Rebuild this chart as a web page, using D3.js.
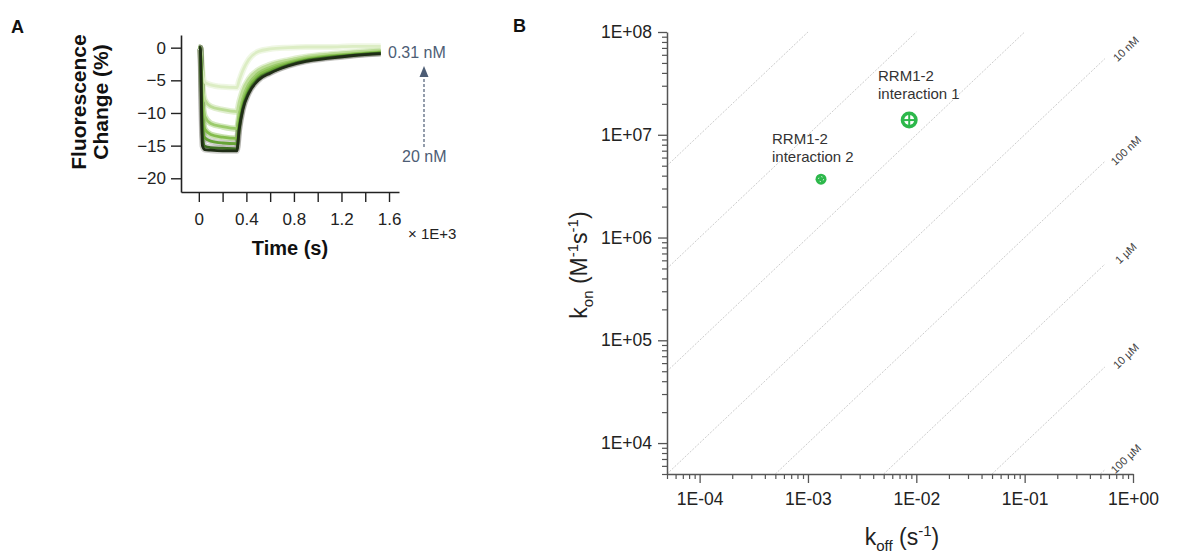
<!DOCTYPE html>
<html><head><meta charset="utf-8">
<script src="https://cdn.jsdelivr.net/npm/d3@7"></script>
<style>
body{margin:0;background:#fff;}
svg{display:block;font-family:"Liberation Sans",Arial,sans-serif;}
</style></head>
<body>
<script>
// ---------- Panel A data ----------
const timeA = [0, 0.012, 0.03, 0.05, 0.1, 0.2, 0.32, 0.34, 0.37, 0.42, 0.5, 0.6, 0.75, 0.9, 1.1, 1.3, 1.53];
const concLabels = ["0.31 nM","0.625 nM","1.25 nM","2.5 nM","5 nM","10 nM","20 nM"];
const c031 = [0, 0, -3.5, -5.3, -5.7, -6.0, -6.1, -5.0, -3.5, -1.8, -0.6, -0.2, 0.0, 0.1, 0.1, 0.2, 0.2];
const c0625 = [0, 0, -5.5, -8.0, -9.0, -9.5, -9.8, -8.3, -6.5, -4.8, -3.4, -2.6, -1.9, -1.4, -1.0, -0.7, -0.4];
const c125 = [0, 0, -7.5, -10.5, -11.6, -12.1, -12.4, -10.3, -7.8, -5.6, -3.9, -3.0, -2.2, -1.6, -1.2, -0.9, -0.6];
const c25 = [0, 0, -9.5, -12.5, -13.3, -13.7, -13.9, -11.3, -8.5, -6.1, -4.3, -3.3, -2.4, -1.8, -1.3, -1.0, -0.7];
const c5 = [0, 0, -11.5, -13.8, -14.3, -14.6, -14.7, -11.8, -8.9, -6.5, -4.6, -3.6, -2.6, -1.9, -1.4, -1.1, -0.8];
const c10 = [0, 0, -13.5, -15.1, -15.3, -15.4, -15.5, -12.3, -9.3, -6.8, -4.8, -3.8, -2.7, -2.0, -1.5, -1.15, -0.85];
const c20 = [0, 0, -15.0, -15.6, -15.7, -15.8, -15.8, -12.5, -9.5, -7.0, -5.0, -3.9, -2.8, -2.1, -1.6, -1.2, -0.9];
const seriesA = [c031, c0625, c125, c25, c5, c10, c20];
const colorsA = ["#dcedc4","#bcdc96","#9ccb6c","#84bc4c","#66a336","#3f6e24","#1f2d16"];
const yTicksA = [0, -5, -10, -15, -20];
const xTicksA = [0, 0.2, 0.4, 0.6, 0.8, 1.0, 1.2, 1.4, 1.6];
const xTickLabelsA = ["0", "", "0.4", "", "0.8", "", "1.2", "", "1.6"];

// ---------- Panel B data ----------
const koffTicks = [1e-4, 1e-3, 1e-2, 1e-1, 1];
const koffTickLabels = ["1E-04","1E-03","1E-02","1E-01","1E+00"];
const konTicks = [1e4, 1e5, 1e6, 1e7, 1e8];
const konTickLabels = ["1E+04","1E+05","1E+06","1E+07","1E+08"];
const kdValues = [1e-11, 1e-10, 1e-9, 1e-8, 1e-7, 1e-6, 1e-5, 1e-4];
const kdLabels = ["", "", "", "10 nM", "100 nM", "1 µM", "10 µM", "100 µM"];
const pointNames = ["interaction 1", "interaction 2"];
const pointKoff = [8.6e-3, 1.32e-3];
const pointKon = [1.39e7, 3.7e6];

const W = 1183, H = 558;
const svg = d3.select("body").append("svg").attr("width", W).attr("height", H);
svg.append("rect").attr("width", W).attr("height", H).attr("fill", "#fff");

// panel letters
svg.append("text").attr("x", 11).attr("y", 33).text("A").style("font-weight","bold").style("font-size","18px").attr("fill","#111");
svg.append("text").attr("x", 513).attr("y", 32).text("B").style("font-weight","bold").style("font-size","18px").attr("fill","#111");

// ================= Panel A =================
const xA = d3.scaleLinear().domain([-0.15, 1.684]).range([181, 399]);
const yA = d3.scaleLinear().domain([-22.1, 1.94]).range([192, 35]);
const gA = svg.append("g");

const lineA = d3.line().x((d,i)=>xA(timeA[i])).y(d=>yA(d)).curve(d3.curveMonotoneX);
seriesA.forEach((s,k)=>{
  gA.append("path").attr("d", lineA(s)).attr("fill","none")
    .attr("stroke", k>=4 ? "#7a7a72" : colorsA[k]).attr("stroke-opacity", k>=4 ? 0.35 : 0.45)
    .attr("stroke-width", 6).attr("stroke-linejoin","round");
});
seriesA.forEach((s,k)=>{
  gA.append("path").attr("d", lineA(s)).attr("fill","none")
    .attr("stroke", colorsA[k]).attr("stroke-width", 2.8).attr("stroke-linejoin","round");
});

const axAy = gA.append("g").attr("transform","translate(181,0)")
  .call(d3.axisLeft(yA).tickValues(yTicksA).tickSize(10).tickSizeOuter(0).tickPadding(5));
const axAx = gA.append("g").attr("transform","translate(0,192)")
  .call(d3.axisBottom(xA).tickValues(xTicksA).tickSize(10).tickSizeOuter(0).tickPadding(11)
    .tickFormat((d,i)=>xTickLabelsA[i]));
[axAy, axAx].forEach(a=>{
  a.select(".domain").attr("stroke","#222").attr("stroke-width",1.6);
  a.selectAll(".tick line").attr("stroke","#222").attr("stroke-width",1.4);
  a.selectAll(".tick text").attr("fill","#222").style("font-size","17px").style("font-family","'Liberation Sans',Arial,sans-serif");
});

gA.append("text").attr("x", 408).attr("y", 239).text("× 1E+3").style("font-size","15px").attr("fill","#222");
gA.append("text").attr("x", 290).attr("y", 255).attr("text-anchor","middle").text("Time (s)")
  .style("font-size","20px").style("font-weight","bold").attr("fill","#111");
gA.append("text").attr("transform","translate(86,102) rotate(-90)").attr("text-anchor","middle")
  .text("Fluorescence").style("font-size","21px").style("font-weight","bold").attr("fill","#111");
gA.append("text").attr("transform","translate(108,102) rotate(-90)").attr("text-anchor","middle")
  .text("Change (%)").style("font-size","21px").style("font-weight","bold").attr("fill","#111");

const slate = "#4d5d75";
gA.append("text").attr("x", 388).attr("y", 58).text(concLabels[0]).style("font-size","16px").attr("fill", slate);
gA.append("text").attr("x", 402).attr("y", 162).text(concLabels[6]).style("font-size","16px").attr("fill", slate);
gA.append("line").attr("x1",424).attr("x2",424).attr("y1",147).attr("y2",76)
  .attr("stroke",slate).attr("stroke-width",1.2).attr("stroke-dasharray","3,2");
gA.append("path").attr("d","M424,66 L428.5,77 L419.5,77 Z").attr("fill",slate);

// ================= Panel B =================
const xB = d3.scaleLog().domain([5e-5, 1]).range([667, 1133]);
const yB = d3.scaleLog().domain([5e3, 1e8]).range([474, 32]);
const gB = svg.append("g");

// KD diagonals
const angle = Math.atan((yB(1e7)-yB(1e8)) / (xB(1)-xB(0.1))) * 180 / Math.PI;
kdValues.forEach((kd,i)=>{
  const k0 = Math.max(5e-5, 5e3*kd);
  let k1 = Math.min(1, 1e8*kd);
  if (kdLabels[i]) k1 = Math.min(k1, 0.55);
  gB.append("line").attr("x1", xB(k0)).attr("y1", yB(k0/kd)).attr("x2", xB(k1)).attr("y2", yB(k1/kd))
    .attr("stroke","#cccccc").attr("stroke-width",1).attr("stroke-dasharray","2,1.5");
  if (kdLabels[i]) {
    const kl = 0.86;
    const lx = xB(kl), ly = Math.max(yB(kl/kd), 40) + 9;
    gB.append("text").attr("transform",`translate(${lx},${ly}) rotate(${-angle})`)
      .attr("text-anchor","middle").attr("dy","0.35em").text(kdLabels[i])
      .style("font-size","11px").attr("fill","#444");
  }
});

// minor ticks
const minorX = [], minorY = [];
for (let e=-5; e<=-1; e++) for (let m=2; m<=9; m++) { const v=m*Math.pow(10,e); if (v>=5e-5 && v<=1) minorX.push(v); }
for (let e=3; e<=7; e++) for (let m=2; m<=9; m++) { const v=m*Math.pow(10,e); if (v>=5e3 && v<=1e8) minorY.push(v); }

const axBxMinor = gB.append("g").attr("transform","translate(0,474)")
  .call(d3.axisBottom(xB).tickValues(minorX).tickSize(5).tickFormat(""));
const axByMinor = gB.append("g").attr("transform","translate(667,0)")
  .call(d3.axisLeft(yB).tickValues(minorY).tickSize(5).tickFormat(""));
const axBx = gB.append("g").attr("transform","translate(0,474)")
  .call(d3.axisBottom(xB).tickValues(koffTicks).tickSize(9).tickSizeOuter(0).tickPadding(10)
    .tickFormat((d,i)=>koffTickLabels[i]));
const axBy = gB.append("g").attr("transform","translate(667,0)")
  .call(d3.axisLeft(yB).tickValues(konTicks).tickSize(9).tickSizeOuter(0).tickPadding(6)
    .tickFormat((d,i)=>konTickLabels[i]));
[axBxMinor, axByMinor].forEach(a=>{ a.select(".domain").remove(); a.selectAll(".tick line").attr("stroke","#555").attr("stroke-width",1.2); });
[axBx, axBy].forEach(a=>{
  a.select(".domain").attr("stroke","#555").attr("stroke-width",1.5);
  a.selectAll(".tick line").attr("stroke","#555").attr("stroke-width",1.3);
  a.selectAll(".tick text").attr("fill","#222").style("font-size","17.5px").style("font-family","'Liberation Sans',Arial,sans-serif");
});

// axis titles
const xl = gB.append("text").attr("x", 902).attr("y", 545).attr("text-anchor","middle").style("font-size","23px").attr("fill","#222");
xl.append("tspan").text("k");
xl.append("tspan").text("off").attr("dy",6).style("font-size","15px");
xl.append("tspan").text(" (s").attr("dy",-6);
xl.append("tspan").text("-1").attr("dy",-9).style("font-size","15px");
xl.append("tspan").text(")").attr("dy",9);

const yl = gB.append("text").attr("transform","translate(587,265) rotate(-90)").attr("text-anchor","middle").style("font-size","23px").attr("fill","#222");
yl.append("tspan").text("k");
yl.append("tspan").text("on").attr("dy",6).style("font-size","15px");
yl.append("tspan").text(" (M").attr("dy",-6);
yl.append("tspan").text("-1").attr("dy",-9).style("font-size","15px");
yl.append("tspan").text("s").attr("dy",9);
yl.append("tspan").text("-1").attr("dy",-9).style("font-size","15px");
yl.append("tspan").text(")").attr("dy",9);

// points
const green = "#2db84b";
// interaction 1
{
  const cx = xB(pointKoff[0]), cy = yB(pointKon[0]);
  gB.append("circle").attr("cx",cx).attr("cy",cy).attr("r",8.5).attr("fill",green);
  gB.append("circle").attr("cx",cx).attr("cy",cy).attr("r",5).attr("fill","#fff");
  gB.append("line").attr("x1",cx-6.5).attr("x2",cx+6.5).attr("y1",cy).attr("y2",cy).attr("stroke",green).attr("stroke-width",2);
  gB.append("line").attr("x1",cx).attr("x2",cx).attr("y1",cy-6.5).attr("y2",cy+6.5).attr("stroke",green).attr("stroke-width",2);
}
// interaction 2
{
  const cx = xB(pointKoff[1]), cy = yB(pointKon[1]);
  gB.append("circle").attr("cx",cx).attr("cy",cy).attr("r",5.5).attr("fill",green);
  gB.append("circle").attr("cx",cx).attr("cy",cy).attr("r",2.5).attr("fill","none")
    .attr("stroke","#e8f7ea").attr("stroke-width",1).attr("stroke-dasharray","1.3,2.6");
}
// point labels
const lbl = [{x:878, y:81}, {x:772, y:144}];
pointNames.forEach((n,i)=>{
  const t = gB.append("text").attr("x", lbl[i].x).attr("y", lbl[i].y).style("font-size","15px").attr("fill","#333");
  t.append("tspan").attr("x", lbl[i].x).text("RRM1-2");
  t.append("tspan").attr("x", lbl[i].x).attr("dy", 18).text(n);
});
</script>
</body></html>
